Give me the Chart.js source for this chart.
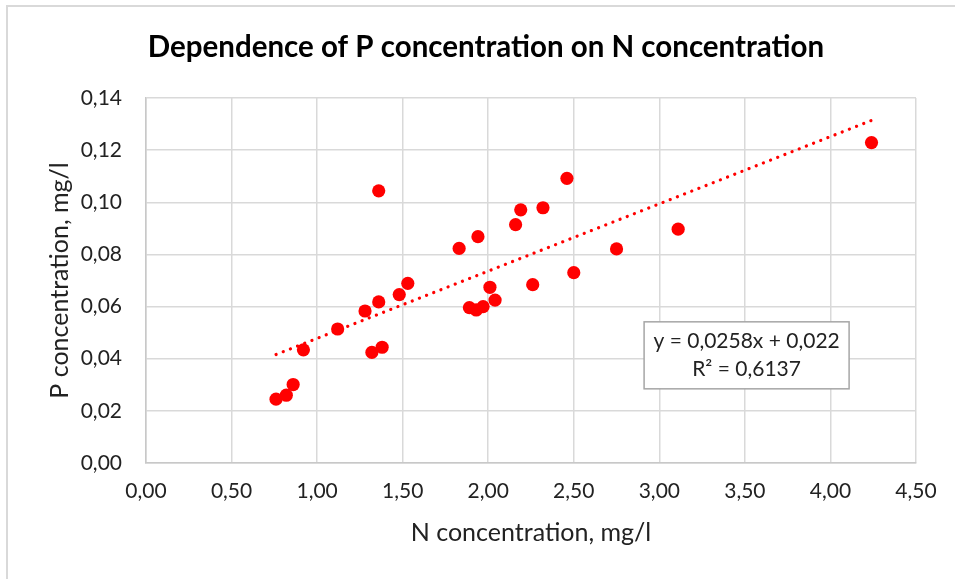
<!DOCTYPE html>
<html>
<head>
<meta charset="utf-8">
<script src="https://cdn.jsdelivr.net/npm/chart.js@4.4.0/dist/chart.umd.min.js"></script>
<style>
  body { margin: 0; background: #fff; overflow: hidden; }
  #frame { position: absolute; left: 6px; top: 5px; width: 970px; height: 600px; border: 2px solid #d9d9d9; }
  #chart { position: absolute; left: 0; top: 0; }
</style>
</head>
<body>
<div id="frame"></div>
<canvas id="chart" width="955" height="579"></canvas>
<script>
// Données
const nConc = [0.76, 0.82, 0.86, 0.92, 1.12, 1.28, 1.36, 1.32, 1.38, 1.36, 1.48, 1.53,
  1.83, 1.94, 1.89, 1.93, 1.97, 2.01, 2.04, 2.16, 2.19, 2.32, 2.46, 2.26, 2.50, 2.75, 3.11, 4.24];
const pConc = [0.0245, 0.0260, 0.0301, 0.0434, 0.0514, 0.0583, 0.0618, 0.0424, 0.0444, 0.1044, 0.0646, 0.0689,
  0.0823, 0.0868, 0.0596, 0.0587, 0.0600, 0.0674, 0.0625, 0.0914, 0.0971, 0.0979, 0.1092, 0.0684, 0.0730, 0.0821, 0.0897, 0.1229];

// Courbe de tendance (équation affichée)
const trendSlope = 0.0258;
const trendIntercept = 0.022;
const trendLabel = ['y = 0,0258x + 0,022', 'R² = 0,6137'];

const chartTitle = 'Dependence of P concentration on N concentration';
const xTitle = 'N concentration, mg/l';
const yTitle = 'P concentration, mg/l';

const points = nConc.map((x, i) => ({ x: x, y: pConc[i] }));
const xMin = Math.min(...nConc);
const xMax = Math.max(...nConc);
const trendPoints = [xMin, xMax].map(x => ({ x: x, y: trendSlope * x + trendIntercept }));

const fmt = (v) => v.toFixed(2).replace('.', ',');

// Titres et étiquette de l'équation
const textPlugin = {
  id: 'textPlugin',
  afterDraw(chart) {
    const ctx = chart.ctx;
    const xs = chart.scales.x;
    const ys = chart.scales.y;
    ctx.save();
    ctx.fillStyle = '#000';
    ctx.textAlign = 'center';
    ctx.textBaseline = 'alphabetic';
    ctx.font = 'bold 29.5px Lato';
    ctx.fillText(chartTitle, 486, 57);

    ctx.fillStyle = '#222';
    ctx.font = '25px Lato';
    ctx.textBaseline = 'middle';
    ctx.fillText(xTitle, (xs.left + xs.right) / 2, 533);

    ctx.save();
    ctx.translate(60, (ys.top + ys.bottom) / 2);
    ctx.rotate(-Math.PI / 2);
    ctx.fillText(yTitle, 0, 0);
    ctx.restore();

    // boîte de l'équation
    const cx = xs.getPixelForValue(3.51);
    const cy = ys.getPixelForValue(0.0413);
    const w = 205, h = 67;
    ctx.fillStyle = '#fff';
    ctx.fillRect(cx - w / 2, cy - h / 2, w, h);
    ctx.strokeStyle = '#a6a6a6';
    ctx.lineWidth = 1.5;
    ctx.strokeRect(cx - w / 2, cy - h / 2, w, h);
    ctx.fillStyle = '#222';
    ctx.font = '21px Lato';
    ctx.fillText(trendLabel[0], cx, cy - 14);
    ctx.fillText(trendLabel[1], cx, cy + 14);
    ctx.restore();
  }
};

new Chart(document.getElementById('chart'), {
  type: 'scatter',
  data: {
    datasets: [{
      label: 'P',
      data: points,
      backgroundColor: '#ff0000',
      borderColor: '#ff0000',
      pointRadius: 6.6,
      pointHoverRadius: 6.6,
      borderWidth: 0
    }, {
      label: 'Tendance',
      type: 'line',
      data: trendPoints,
      borderColor: '#ff0000',
      borderWidth: 3.2,
      borderDash: [0.1, 7.6],
      borderCapStyle: 'round',
      pointRadius: 0,
      fill: false
    }]
  },
  options: {
    responsive: false,
    animation: false,
    layout: { padding: { top: 98, right: 39, left: 0, bottom: 0 } },
    plugins: {
      legend: { display: false },
      tooltip: { enabled: false }
    },
    scales: {
      x: {
        type: 'linear',
        min: 0,
        max: 4.5,
        afterFit: (scale) => { scale.height = 116; },
        ticks: {
          stepSize: 0.5,
          padding: 16,
          color: '#222',
          font: { family: 'Lato', size: 21 },
          maxRotation: 0,
          callback: (v) => fmt(v)
        },
        grid: { color: '#d9d9d9', lineWidth: 1.5, drawTicks: false },
        border: { color: '#c8c8c8', width: 1.5 }
      },
      y: {
        min: 0,
        max: 0.14,
        afterFit: (scale) => { scale.width = 146; },
        ticks: {
          stepSize: 0.02,
          padding: 24,
          color: '#222',
          font: { family: 'Lato', size: 21 },
          callback: (v) => fmt(v)
        },
        grid: { color: '#d9d9d9', lineWidth: 1.5, drawTicks: false },
        border: { color: '#c8c8c8', width: 1.5 }
      }
    }
  },
  plugins: [textPlugin]
});
</script>
</body>
</html>
